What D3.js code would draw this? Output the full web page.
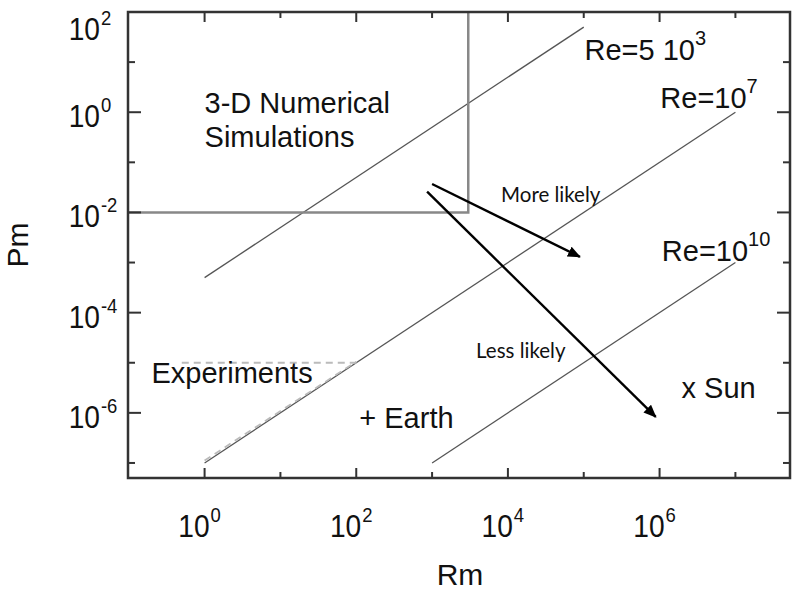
<!DOCTYPE html>
<html>
<head>
<meta charset="utf-8">
<script src="https://cdn.jsdelivr.net/npm/d3@7"></script>
<style>
  body { margin: 0; background: #fff; }
  text { font-family: "Liberation Sans", Arial, sans-serif; fill: #111; }
  .note { font-family: Lato, "Open Sans", sans-serif; }
</style>
</head>
<body>
<svg id="chart" width="794" height="591"></svg>
<script>
// axis extents (log10)
const xLogDomain = [-1.01, 7.72];
const yLogDomain = [-7.3, 2];

const xTickDecades = [0, 1, 2, 3, 4, 5, 6, 7];
const xLabelDecades = [0, 2, 4, 6];
const yTickDecades = [2, 1, 0, -1, -2, -3, -4, -5, -6, -7];
const yLabelDecades = [2, 0, -2, -4, -6];

// Pm = Rm / Re lines
const reLines = [
    [[1, 5e-4], [1e5, 50]],
    [[1, 1e-7], [1e7, 1]],
    [[1e3, 1e-7], [1e7, 1e-3]]
];

// 3-D simulation region boundary
const simEdge = [[Math.pow(10, -1.01), 1e-2], [3e3, 1e-2], [3e3, 100]];

// experiments region (dashed)
const expTop = [[0.5, 1e-5], [100, 1e-5]];
const expDiag = [[1, 1.12e-7], [100, 1.05e-5]];

const arrows = [
    [[1e3, 0.037], [8.9e4, 1.3e-3]],
    [[860, 0.026], [8.9e5, 8.3e-7]]
];

// annotations: [Rm, Pm, text, superscript]
const labels = [
    [1, 0.96, "3-D Numerical", ""],
    [1, 0.96, "Simulations", ""],
    [Math.pow(10, 5.01), Math.pow(10, 1.04), "Re=5 10", "3"],
    [Math.pow(10, 6.01), Math.pow(10, 0.084), "Re=10", "7"],
    [Math.pow(10, 6.03), Math.pow(10, -2.97), "Re=10", "10"],
    [Math.pow(10, -0.70), Math.pow(10, -5.40), "Experiments", ""],
    [Math.pow(10, 2.04), Math.pow(10, -6.30), "+ Earth", ""],
    [Math.pow(10, 6.29), Math.pow(10, -5.70), "x Sun", ""]
];
const notes = [
    [Math.pow(10, 3.91), Math.pow(10, -1.79), "More likely"],
    [Math.pow(10, 3.58), Math.pow(10, -4.91), "Less likely"]
];

let svg = d3.select("#chart");

let plot = {left: 128, right: 790, top: 12, bottom: 478};

let x = d3.scaleLog()
    .domain(xLogDomain.map(d => Math.pow(10, d)))
    .range([plot.left, plot.right]);

let y = d3.scaleLog()
    .domain(yLogDomain.map(d => Math.pow(10, d)))
    .range([plot.bottom, plot.top]);

let line = d3.line().x(d => x(d[0])).y(d => y(d[1]));

// marker for arrows
svg.append("defs").append("marker")
    .attr("id", "head")
    .attr("markerUnits", "userSpaceOnUse")
    .attr("viewBox", "0 0 12 10")
    .attr("refX", 11)
    .attr("refY", 5)
    .attr("markerWidth", 13)
    .attr("markerHeight", 11)
    .attr("orient", "auto")
    .append("path")
    .attr("d", "M0,0 L12,5 L0,10 Z")
    .attr("fill", "#000");

// Re lines
svg.selectAll(".re")
    .data(reLines)
    .enter().append("path")
    .attr("class", "re")
    .attr("d", line)
    .attr("fill", "none")
    .attr("stroke", "#555")
    .attr("stroke-width", 1.3);

// experiments dashed
svg.selectAll(".exp")
    .data([expTop, expDiag])
    .enter().append("path")
    .attr("class", "exp")
    .attr("d", line)
    .attr("fill", "none")
    .attr("stroke", "#bbb")
    .attr("stroke-width", 1.8)
    .attr("stroke-dasharray", "7,5");

// simulation box
svg.append("path")
    .datum(simEdge)
    .attr("d", line)
    .attr("fill", "none")
    .attr("stroke", "#888")
    .attr("stroke-width", 2.5);

// arrows
svg.selectAll(".arrow")
    .data(arrows)
    .enter().append("path")
    .attr("class", "arrow")
    .attr("d", line)
    .attr("stroke", "#000")
    .attr("stroke-width", 2.4)
    .attr("marker-end", "url(#head)");

// frame
svg.append("rect")
    .attr("x", plot.left)
    .attr("y", plot.top)
    .attr("width", plot.right - plot.left)
    .attr("height", plot.bottom - plot.top)
    .attr("fill", "none")
    .attr("stroke", "#333")
    .attr("stroke-width", 2.5);

// ticks (inward, mirrored)
let ticks = svg.append("g").attr("stroke", "#333").attr("stroke-width", 2);

xTickDecades.forEach(function(d){
    let px = x(Math.pow(10, d));
    let len = xLabelDecades.includes(d) ? 10 : 6;
    ticks.append("line").attr("x1", px).attr("x2", px).attr("y1", plot.bottom).attr("y2", plot.bottom - len);
    ticks.append("line").attr("x1", px).attr("x2", px).attr("y1", plot.top).attr("y2", plot.top + len);
});

yTickDecades.forEach(function(d){
    let py = y(Math.pow(10, d));
    let len = yLabelDecades.includes(d) ? 13 : 7;
    ticks.append("line").attr("x1", plot.left).attr("x2", plot.left + len).attr("y1", py).attr("y2", py);
    ticks.append("line").attr("x1", plot.right).attr("x2", plot.right - len).attr("y1", py).attr("y2", py);
});

// tick labels: "10" plus superscript exponent, slightly condensed
function powerLabel(px, py, exp)
{
    let g = svg.append("g")
        .attr("transform", "translate(" + px + "," + py + ") scale(0.88,1)");
    g.append("text").attr("x", 0).attr("y", 0)
        .attr("text-anchor", "end").attr("font-size", 32).text("10");
    g.append("text").attr("x", 1).attr("y", -15)
        .attr("font-size", 21).text(exp);
}

xLabelDecades.forEach(function(d){
    powerLabel(x(Math.pow(10, d)) + 5, 537, d);
});

yLabelDecades.forEach(function(d){
    let py = y(Math.pow(10, d));
    powerLabel(100, Math.max(py + 15, 40), d);
});

// axis titles
svg.append("text")
    .attr("x", 460).attr("y", 585)
    .attr("text-anchor", "middle").attr("font-size", 30)
    .text("Rm");

svg.append("text")
    .attr("transform", "translate(28,245) rotate(-90)")
    .attr("text-anchor", "middle").attr("font-size", 30)
    .text("Pm");

// annotations
labels.forEach(function(l, i){
    let t = svg.append("text")
        .attr("x", x(l[0]))
        .attr("y", y(l[1]) + (i === 1 ? 34 : 0))
        .attr("font-size", 29)
        .text(l[2]);
    if(l[3] !== "")
    {
        t.append("tspan").attr("dy", -15).attr("font-size", 20).text(l[3]);
    }
});

notes.forEach(function(n){
    svg.append("text")
        .attr("class", "note")
        .attr("x", x(n[0]))
        .attr("y", y(n[1]))
        .attr("font-size", 20.5)
        .text(n[2]);
});
</script>
</body>
</html>
